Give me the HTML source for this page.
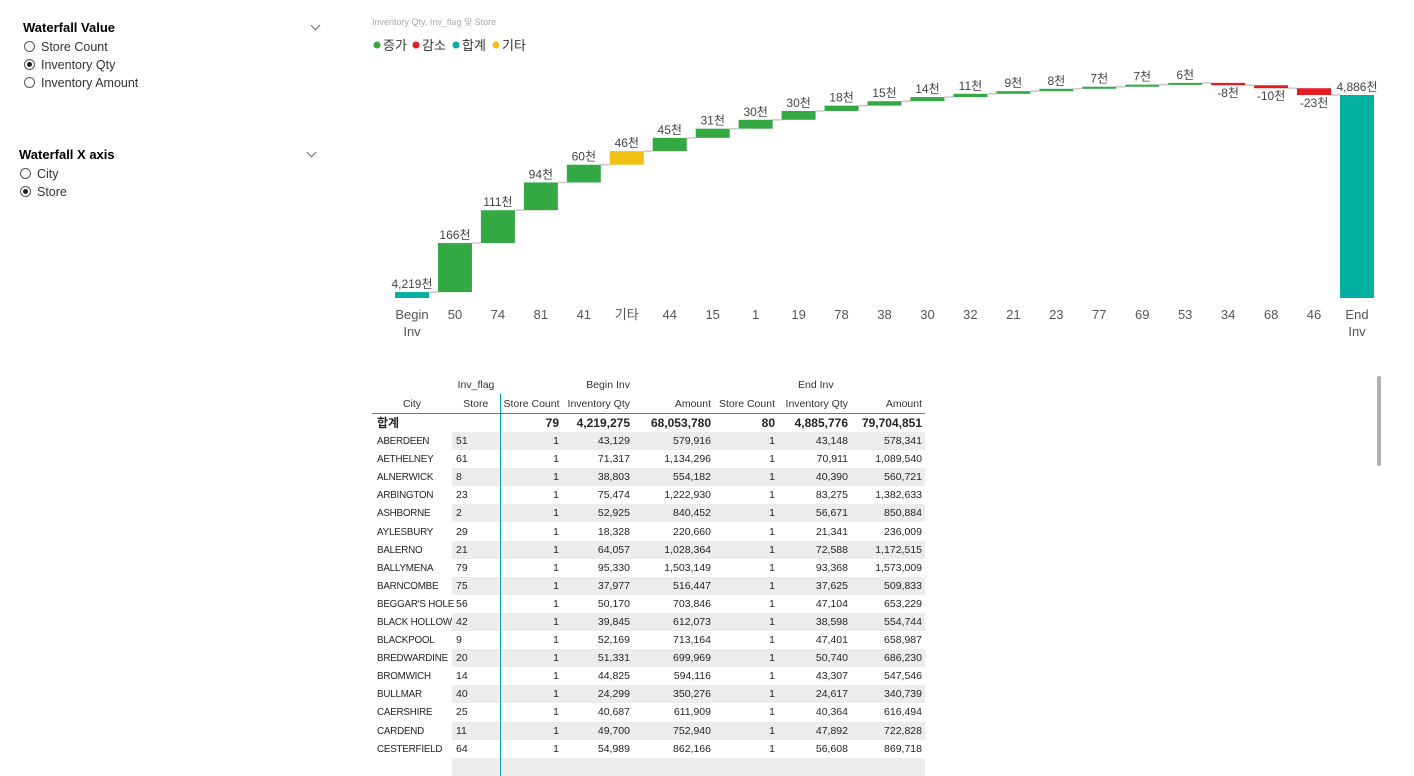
<!DOCTYPE html>
<html><head><meta charset="utf-8"><style>
body{margin:0;width:1414px;height:773px;background:#fff;font-family:"Segoe UI","Liberation Sans","Noto Sans CJK KR",sans-serif;position:relative;overflow:hidden;color:#252423}
.sl{position:absolute;font-size:12.5px}
.sl .t{font-weight:bold;font-size:13px;color:#000}
.opt{position:absolute;font-size:12.5px;color:#333;white-space:nowrap}
.rad{display:inline-block;width:9px;height:9px;border:1px solid #555;border-radius:50%;margin-right:6px;vertical-align:-1px;position:relative}
.rad.on::after{content:"";position:absolute;left:2px;top:2px;width:5px;height:5px;border-radius:50%;background:#222}
.chev{position:absolute;width:6px;height:6px;border-right:1px solid #666;border-bottom:1px solid #666;transform:rotate(45deg)}
table{position:absolute;left:372px;top:375px;width:553px;table-layout:fixed;border-collapse:collapse;font-size:10.5px;font-family:"Segoe UI","Liberation Sans","Noto Sans CJK KR",sans-serif}
td{height:18.1px;padding:0 3px;white-space:nowrap;overflow:hidden;text-align:right;box-sizing:border-box;vertical-align:middle;line-height:18px}
td.c{text-align:left;padding-left:5px;padding-right:0;overflow:visible;font-size:9.8px;letter-spacing:-0.2px}
td.c span{position:relative;top:1px}
tr.tot td.c{font-size:12px;letter-spacing:0}
tr.tot td.c span{top:0}
td.s{text-align:left;padding-left:4px;border-right:1px solid #00a99d}
tr.g td:not(.c){background:#ececec}
th{font-weight:normal;color:#333;font-size:10.5px;text-align:right;padding:0 3px;height:19px;white-space:nowrap;overflow:visible}
</style></head><body>
<div class="sl" style="left:23px;top:20px"><span class="t">Waterfall Value</span></div>
<div class="chev" style="left:312px;top:22px"></div>
<div class="opt" style="left:24px;top:40px"><span class="rad"></span>Store Count</div>
<div class="opt" style="left:24px;top:58px"><span class="rad on"></span>Inventory Qty</div>
<div class="opt" style="left:24px;top:76px"><span class="rad"></span>Inventory Amount</div>
<div class="sl" style="left:19px;top:147px"><span class="t">Waterfall X axis</span></div>
<div class="chev" style="left:308px;top:149px"></div>
<div class="opt" style="left:20px;top:167px"><span class="rad"></span>City</div>
<div class="opt" style="left:20px;top:185px"><span class="rad on"></span>Store</div>

<svg id="chart" width="1414" height="360" style="position:absolute;left:0;top:0">
<text x="372" y="25" font-size="9" fill="#aaa">Inventory Qty, Inv_flag 및 Store</text>
<g font-size="13" fill="#333">
<circle cx="377" cy="45" r="3.5" fill="#34a843"/><text x="383" y="50">증가</text>
<circle cx="416" cy="45" r="3.5" fill="#e31b23"/><text x="422" y="50">감소</text>
<circle cx="456" cy="45" r="3.5" fill="#00b0a0"/><text x="462" y="50">합계</text>
<circle cx="496" cy="45" r="3.5" fill="#f2c014"/><text x="502" y="50">기타</text>
</g>
<g id="bars"></g>
</svg>
<script>
const cats=["Begin Inv","50","74","81","41","기타","44","15","1","19","78","38","30","32","21","23","77","69","53","34","68","46","End Inv"];
const vals=[4219,166,111,94,60,46,45,31,30,30,18,15,14,11,9,8,7,7,6,-8,-10,-23,4886];
const kinds=["total","inc","inc","inc","inc","other","inc","inc","inc","inc","inc","inc","inc","inc","inc","inc","inc","inc","inc","dec","dec","dec","total"];
const labels=["4,219천","166천","111천","94천","60천","46천","45천","31천","30천","30천","18천","15천","14천","11천","9천","8천","7천","7천","6천","-8천","-10천","-23천","4,886천"];
const yMin=4199,yMax=4886,pyB=298,pyT=95;
const y=v=>pyB-(v-yMin)*(pyB-pyT)/(yMax-yMin);
const x=i=>412+i*(1357-412)/(cats.length-1);
const col={total:"#00b0a0",inc:"#34a843",dec:"#e31b23",other:"#f2c014"};
const g=document.getElementById('bars');const NS="http://www.w3.org/2000/svg";
let cum=0;const bw=34;
cats.forEach((c,i)=>{
 let a,b;
 if(kinds[i]==="total"){a=yMin;b=vals[i];cum=vals[i];}else{a=cum;b=cum+vals[i];cum=b;}
 const top=Math.min(y(a),y(b)),h=Math.max(Math.abs(y(a)-y(b)),2);
 if(i<cats.length-1){const ln=document.createElementNS(NS,'line');
  ln.setAttribute('x1',x(i)+bw/2);ln.setAttribute('x2',x(i+1)-bw/2);ln.setAttribute('y1',y(cum));ln.setAttribute('y2',y(cum));ln.setAttribute('stroke','#c8c8c8');ln.setAttribute('stroke-width','1.5');
  
  
  g.appendChild(ln);}
 const r=document.createElementNS(NS,'rect');
 r.setAttribute('x',x(i)-bw/2);r.setAttribute('y',top);r.setAttribute('width',bw);r.setAttribute('height',h);r.setAttribute('fill',col[kinds[i]]);
 
 
 g.appendChild(r);
 const t=document.createElementNS(NS,'text');
 t.setAttribute('x',x(i));t.setAttribute('text-anchor','middle');t.setAttribute('font-size','12');t.setAttribute('fill','#444');
 t.setAttribute('y',kinds[i]==="dec"?top+h+12:top-4);t.textContent=labels[i];
 
 
 g.appendChild(t);
 const parts=c.split(' ');
 parts.forEach((p,k)=>{const a=document.createElementNS(NS,'text');a.setAttribute('x',x(i));a.setAttribute('y',319+k*17);a.setAttribute('text-anchor','middle');a.setAttribute('font-size','13');a.setAttribute('fill','#555');a.textContent=p;
 
 
 g.appendChild(a);});
});
</script>

<table>
<colgroup><col style="width:80px"><col style="width:48px"><col style="width:62px"><col style="width:71px"><col style="width:81px"><col style="width:64px"><col style="width:73px"><col style="width:74px"></colgroup>
<tr><th style="height:10px"></th><th style="text-align:center">Inv_flag</th><th></th><th>Begin Inv</th><th></th><th></th><th style="text-align:left;padding-left:20px">End Inv</th><th></th></tr>
<tr style="border-bottom:1px solid #00a99d"><th style="text-align:center">City</th><th style="text-align:center;border-right:1px solid #00a99d">Store</th><th>Store Count</th><th>Inventory Qty</th><th>Amount</th><th>Store Count</th><th>Inventory Qty</th><th>Amount</th></tr>
<tbody id="tb"></tbody>
</table>
<script>
const rows=[["ABERDEEN","51","43,129","579,916","43,148","578,341"],["AETHELNEY","61","71,317","1,134,296","70,911","1,089,540"],["ALNERWICK","8","38,803","554,182","40,390","560,721"],["ARBINGTON","23","75,474","1,222,930","83,275","1,382,633"],["ASHBORNE","2","52,925","840,452","56,671","850,884"],["AYLESBURY","29","18,328","220,660","21,341","236,009"],["BALERNO","21","64,057","1,028,364","72,588","1,172,515"],["BALLYMENA","79","95,330","1,503,149","93,368","1,573,009"],["BARNCOMBE","75","37,977","516,447","37,625","509,833"],["BEGGAR'S HOLE","56","50,170","703,846","47,104","653,229"],["BLACK HOLLOW","42","39,845","612,073","38,598","554,744"],["BLACKPOOL","9","52,169","713,164","47,401","658,987"],["BREDWARDINE","20","51,331","699,969","50,740","686,230"],["BROMWICH","14","44,825","594,116","43,307","547,546"],["BULLMAR","40","24,299","350,276","24,617","340,739"],["CAERSHIRE","25","40,687","611,909","40,364","616,494"],["CARDEND","11","49,700","752,940","47,892","722,828"],["CESTERFIELD","64","54,989","862,166","56,608","869,718"]];
const tb=document.getElementById('tb');
let h='<tr class="tot" style="font-weight:bold;font-size:12px"><td class="c"><span>합계</span></td><td class="s"></td><td>79</td><td>4,219,275</td><td>68,053,780</td><td>80</td><td>4,885,776</td><td>79,704,851</td></tr>';
rows.forEach((r,i)=>{h+=`<tr class="${i%2==0?'g':''}"><td class="c"><span>${r[0]}</span></td><td class="s">${r[1]}</td><td>1</td><td>${r[2]}</td><td>${r[3]}</td><td>1</td><td>${r[4]}</td><td>${r[5]}</td></tr>`;});
h+='<tr class="g"><td class="c"></td><td class="s" style="height:10px"></td><td></td><td></td><td></td><td></td><td></td><td></td></tr>';
tb.innerHTML=h;
</script>
<div style="position:absolute;left:1377px;top:376px;width:4px;height:90px;background:#b0b0b0;border-radius:2px"></div>
</body></html>
